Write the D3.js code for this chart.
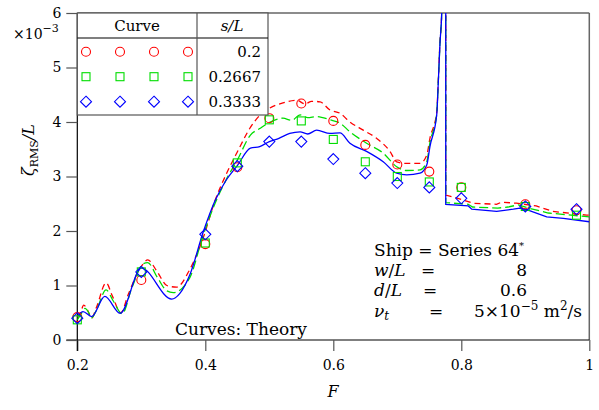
<!DOCTYPE html>
<html><head><meta charset="utf-8">
<script src="https://cdn.jsdelivr.net/npm/d3@7"></script>
<style>body{margin:0;background:#fff} svg{display:block} text{font-family:"DejaVu Serif",serif;fill:#000}</style>
</head><body><svg id="c" width="599" height="410"></svg>
<script>
// ---- data ----
const xTicks = [0.2, 0.4, 0.6, 0.8, 1];
const xTickLabels = ["0.2", "0.4", "0.6", "0.8", "1"];
const yTicks = [0, 1, 2, 3, 4, 5, 6];
const yTickLabels = ["0", "1", "2", "3", "4", "5", "6"];
const seriesNames = ["0.2", "0.2667", "0.3333"];

// experiments (markers)
const expF     = [0.2, 0.3, 0.4, 0.45, 0.5, 0.55, 0.6, 0.65, 0.7, 0.75, 0.8, 0.9, 0.98];
const expRed   = [0.42, 1.10, 1.76, 3.17, 4.07, 4.34, 4.02, 3.58, 3.22, 3.09, 2.80, 2.49, 2.38];
const expGreen = [0.37, 1.25, 1.78, 3.25, 4.04, 4.02, 3.68, 3.27, 3.00, 2.90, 2.80, 2.45, 2.29];
const expBlue  = [0.40, 1.25, 1.94, 3.19, 3.64, 3.64, 3.32, 3.06, 2.88, 2.80, 2.60, 2.45, 2.40];

// theory, below the resonance
const redF1 = [0.200,0.205,0.210,0.216,0.222,0.230,0.245,0.255,0.268,0.280,0.300,0.310,0.325,0.340,0.355,0.376,0.396,0.415,0.433,0.450,0.4705,0.485,0.500,0.5214,0.5428,0.556,0.566,0.5793,0.5948,0.6104,0.626,0.6468,0.6677,0.6886,0.699,0.7147,0.7355,0.746,0.751,0.7616,0.764,0.7667,0.7694,0.772,0.774];
const redV1 = [0.42,0.50,0.64,0.55,0.40,0.60,1.05,0.80,0.50,0.85,1.35,1.47,1.25,1.00,0.97,1.30,1.85,2.55,3.05,3.45,3.90,4.12,4.25,4.35,4.40,4.33,4.38,4.37,4.22,4.16,4.00,3.85,3.70,3.46,3.27,3.24,3.24,3.39,3.70,4.18,4.75,5.48,6.0,7.5,10];
const greenF1 = [0.200,0.206,0.212,0.218,0.222,0.230,0.245,0.256,0.270,0.285,0.303,0.310,0.325,0.340,0.350,0.376,0.396,0.415,0.433,0.450,0.4705,0.485,0.500,0.5214,0.535,0.548,0.560,0.574,0.5948,0.6104,0.626,0.652,0.678,0.699,0.7147,0.7355,0.746,0.751,0.7616,0.764,0.7667,0.7694,0.772,0.774];
const greenV1 = [0.37,0.48,0.58,0.50,0.40,0.55,0.92,0.72,0.48,0.95,1.40,1.42,1.15,0.90,0.87,1.15,1.90,2.50,2.95,3.30,3.76,3.88,3.99,4.07,4.03,4.13,4.08,4.10,4.04,3.98,3.82,3.61,3.43,3.18,3.11,3.12,3.27,3.62,4.15,4.72,5.45,6.0,7.5,10];
const blueF1 = [0.200,0.209,0.2225,0.243,0.267,0.300,0.3475,0.360,0.376,0.397,0.415,0.433,0.450,0.4705,0.485,0.500,0.515,0.532,0.548,0.560,0.574,0.5948,0.6104,0.626,0.652,0.678,0.699,0.7147,0.7355,0.746,0.751,0.7616,0.764,0.7667,0.7694,0.772,0.774];
const blueV1 = [0.43,0.52,0.43,0.80,0.49,1.32,0.75,0.85,1.20,1.99,2.55,2.94,3.20,3.52,3.55,3.64,3.70,3.79,3.82,3.78,3.85,3.79,3.80,3.61,3.46,3.27,3.06,3.03,3.06,3.21,3.55,4.13,4.71,5.45,6.0,7.5,10];

// theory, above the resonance
const redF2 = [0.7757,0.7757,0.800,0.818,0.855,0.863,0.886,0.917,0.943,0.996,1.0];
const redV2 = [10,2.66,2.58,2.51,2.49,2.53,2.51,2.46,2.36,2.29,2.29];
const greenF2 = [0.7757,0.7757,0.811,0.8175,0.857,0.873,0.889,0.905,0.936,1.0];
const greenV2 = [10,2.52,2.49,2.44,2.42,2.44,2.48,2.42,2.33,2.26];
const blueF2 = [0.7757,0.7757,0.811,0.8163,0.8553,0.8813,0.8917,0.9022,0.9334,0.9594,1.0];
const blueV2 = [10,2.49,2.46,2.40,2.36,2.40,2.42,2.39,2.26,2.23,2.17];

// ---- chart ----
const FONT = "DejaVu Serif";
const svg = d3.select("#c");
const L = 77.3, R = 589.3, T = 13, B = 340;
const x = d3.scaleLinear().domain([0.2, 1]).range([L, R]);
const y = d3.scaleLinear().domain([0, 6]).range([B, T]);

svg.append("defs").append("clipPath").attr("id", "clip")
  .append("rect").attr("x", L).attr("y", T).attr("width", R - L).attr("height", B - T);

// frame top/right
svg.append("line").attr("x1", L).attr("x2", R).attr("y1", T).attr("y2", T).attr("stroke", "#666").attr("stroke-width", 1.5);
svg.append("line").attr("x1", R).attr("x2", R).attr("y1", T).attr("y2", B).attr("stroke", "#666").attr("stroke-width", 1.5);

// axes
const xAxis = svg.append("g").attr("transform", `translate(0,${B})`)
  .call(d3.axisBottom(x).tickValues(xTicks).tickSize(11).tickPadding(9).tickFormat((d, i) => xTickLabels[i]));
const yAxis = svg.append("g").attr("transform", `translate(${L},0)`)
  .call(d3.axisLeft(y).tickValues(yTicks).tickSize(11).tickPadding(5).tickFormat((d, i) => yTickLabels[i]));
[xAxis, yAxis].forEach(g => {
  g.attr("font-family", FONT).attr("font-size", 14);
  g.select(".domain").attr("stroke", "#000").attr("stroke-width", 1.2);
  g.selectAll(".tick line").attr("stroke", "#555").attr("stroke-width", 1.2);
  g.selectAll(".tick text").style("font-family", FONT).style("font-size", "14px").attr("fill", "#000");
});
xAxis.select(".domain").attr("d", `M${L - 11},0H${R}`);
yAxis.select(".domain").attr("d", `M0,${B + 11}V${T}`);

// curves
const colors = ["#ff0000", "#00dd00", "#0000ff"];
const dashes = ["6,4", "9,4", null];
const branches1 = [[redF1, redV1], [greenF1, greenV1], [blueF1, blueV1]];
const branches2 = [[redF2, redV2], [greenF2, greenV2], [blueF2, blueV2]];
const plot = svg.append("g").attr("clip-path", "url(#clip)");
const line1 = d3.line().x(d => x(d[0])).y(d => y(d[1])).curve(d3.curveMonotoneX);
const line2 = d3.line().x(d => x(d[0])).y(d => y(d[1]));
[0, 1, 2].forEach(i => {
  const [f1, v1] = branches1[i], [f2, v2] = branches2[i];
  plot.append("path").datum(f1.map((f, k) => [f, v1[k]])).attr("d", line1)
    .attr("fill", "none").attr("stroke", colors[i]).attr("stroke-width", 1.3).attr("stroke-dasharray", dashes[i]);
  plot.append("path").datum(f2.map((f, k) => [f, v2[k]])).attr("d", line2)
    .attr("fill", "none").attr("stroke", colors[i]).attr("stroke-width", 1.3).attr("stroke-dasharray", dashes[i]);
});

// markers
function marker(g, type, cx, cy, color) {
  let m;
  if (type === 0) m = g.append("circle").attr("cx", cx).attr("cy", cy).attr("r", 4.5);
  else if (type === 1) m = g.append("rect").attr("x", cx - 4).attr("y", cy - 4).attr("width", 8).attr("height", 8);
  else m = g.append("path").attr("d", `M${cx},${cy - 5.5}L${cx + 5.5},${cy}L${cx},${cy + 5.5}L${cx - 5.5},${cy}Z`);
  m.attr("fill", "none").attr("stroke", color).attr("stroke-width", 1.1);
}
const exps = [expRed, expGreen, expBlue];
const mg = svg.append("g");
[0, 1, 2].forEach(i => {
  expF.forEach((f, k) => marker(mg, i, x(f), y(exps[i][k]), colors[i]));
});

// legend table
const lg = svg.append("g");
lg.append("rect").attr("x", L).attr("y", T).attr("width", 268 - L).attr("height", 115 - T)
  .attr("fill", "#fff").attr("stroke", "#555").attr("stroke-width", 1.2);
lg.append("line").attr("x1", L).attr("x2", 268).attr("y1", 38).attr("y2", 38).attr("stroke", "#000").attr("stroke-width", 1.2);
lg.append("line").attr("x1", 197).attr("x2", 197).attr("y1", T).attr("y2", 115).attr("stroke", "#555").attr("stroke-width", 1.2);
lg.append("text").attr("x", 137).attr("y", 31).attr("text-anchor", "middle").style("font-size", "15px").text("Curve");
lg.append("text").attr("x", 232).attr("y", 31).attr("text-anchor", "middle").style("font-size", "15px").style("font-style", "italic").text("s/L");
const rowsY = [51.7, 76.7, 101.7];
const mxs = [86, 120, 154, 188];
[0, 1, 2].forEach(i => {
  mxs.forEach(mx => marker(lg, i, mx, rowsY[i], colors[i]));
  lg.append("text").attr("x", 261).attr("y", rowsY[i] + 5.5).attr("text-anchor", "end").style("font-size", "15px").text(seriesNames[i]);
});

// y multiplier and labels
const mult = svg.append("text").attr("x", 13).attr("y", 39).style("font-size", "14px");
mult.append("tspan").text("×10");
mult.append("tspan").attr("dy", -7).style("font-size", "11px").text("−3");

const yl = svg.append("text").attr("transform", "translate(34,150) rotate(-90)").attr("text-anchor", "middle").style("font-size", "16px");
yl.append("tspan").style("font-style", "italic").text("ζ");
yl.append("tspan").attr("dy", 4).style("font-size", "11px").text("RMS");
yl.append("tspan").attr("dy", -4).style("font-style", "italic").text("/L");

svg.append("text").attr("x", 333).attr("y", 397).attr("text-anchor", "middle").style("font-size", "16px").style("font-style", "italic").text("F");

// annotations
const ann = svg.append("g").style("font-size", "17px");
ann.append("text").attr("x", 175).attr("y", 335).text("Curves: Theory");
const s1 = ann.append("text").attr("x", 374).attr("y", 256);
s1.append("tspan").text("Ship = Series 64");
s1.append("tspan").attr("dy", -7).style("font-size", "10px").text("*");
const r2 = ann.append("text").attr("x", 374).attr("y", 276);
r2.append("tspan").style("font-style", "italic").text("w");
r2.append("tspan").text("/");
r2.append("tspan").style("font-style", "italic").text("L");
ann.append("text").attr("x", 421).attr("y", 276).text("=");
ann.append("text").attr("x", 527).attr("y", 276).attr("text-anchor", "end").text("8");
const r3 = ann.append("text").attr("x", 374).attr("y", 296);
r3.append("tspan").style("font-style", "italic").text("d");
r3.append("tspan").text("/");
r3.append("tspan").style("font-style", "italic").text("L");
ann.append("text").attr("x", 423).attr("y", 296).text("=");
ann.append("text").attr("x", 527).attr("y", 296).attr("text-anchor", "end").text("0.6");
const r4 = ann.append("text").attr("x", 374).attr("y", 317);
r4.append("tspan").style("font-style", "italic").text("ν");
r4.append("tspan").attr("dy", 3).style("font-size", "12px").style("font-style", "italic").text("t");
ann.append("text").attr("x", 429).attr("y", 317).text("=");
const r4v = ann.append("text").attr("x", 582).attr("y", 317).attr("text-anchor", "end");
r4v.append("tspan").text("5×10");
r4v.append("tspan").attr("dy", -7).style("font-size", "12px").text("−5");
r4v.append("tspan").attr("dy", 7).text(" m");
r4v.append("tspan").attr("dy", -7).style("font-size", "12px").text("2");
r4v.append("tspan").attr("dy", 7).text("/s");
</script></body></html>
